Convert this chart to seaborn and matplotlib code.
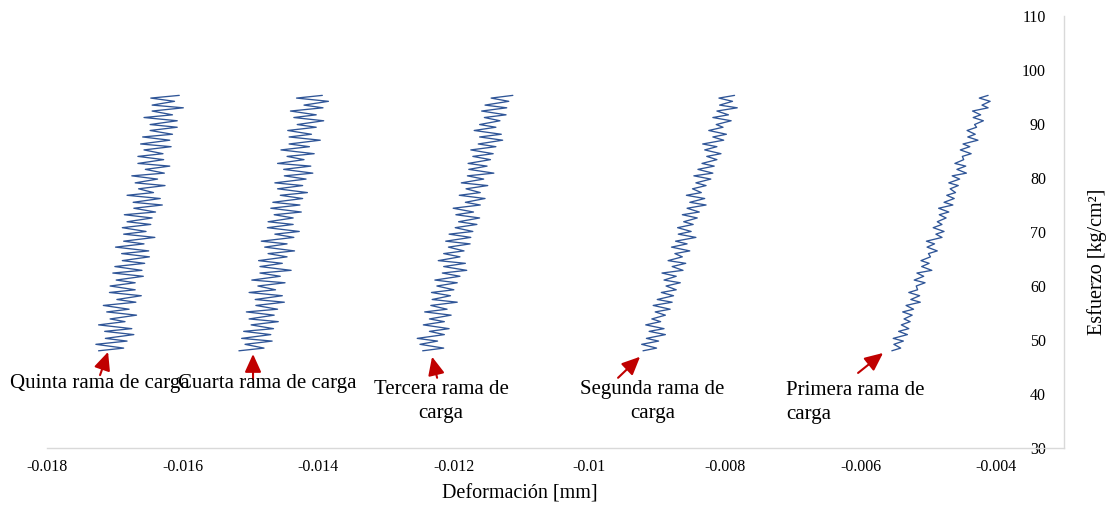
import matplotlib
matplotlib.use("Agg")
import matplotlib.pyplot as plt
from matplotlib.ticker import FuncFormatter, FixedLocator
import seaborn as sns
import pandas as pd

# ---------------- data ----------------
# shared stress readings [kg/cm2]
esfuerzo = [
    48.0, 48.5, 49.2, 49.8, 50.3, 51.0, 51.6, 52.1, 52.8, 53.4,
    53.9, 54.6, 55.2, 55.7, 56.4, 57.0, 57.5, 58.2, 58.8, 59.3,
    60.0, 60.6, 61.1, 61.8, 62.4, 62.9, 63.6, 64.2, 64.7, 65.4,
    66.0, 66.5, 67.2, 67.8, 68.3, 69.0, 69.6, 70.1, 70.8, 71.4,
    71.9, 72.6, 73.2, 73.7, 74.4, 75.0, 75.5, 76.2, 76.8, 77.3,
    78.0, 78.6, 79.1, 79.8, 80.4, 80.9, 81.6, 82.2, 82.7, 83.4,
    84.0, 84.5, 85.2, 85.8, 86.3, 87.0, 87.6, 88.1, 88.8, 89.4,
    89.9, 90.6, 91.2, 91.7, 92.4, 93.0, 93.5, 94.2, 94.8, 95.3,
]

# strain readings in micrometres (x1e-3 mm) for each loading branch
quinta_um = [
    -17.24, -16.87, -17.28, -16.82, -17.14, -16.72, -17.15, -16.75, -17.24, -16.85,
    -17.07, -16.68, -17.12, -16.79, -17.17, -16.69, -16.97, -16.61, -17.08, -16.70,
    -17.07, -16.70, -16.98, -16.58, -17.03, -16.60, -17.00, -16.56, -16.89, -16.49,
    -16.90, -16.50, -16.99, -16.57, -16.87, -16.41, -16.87, -16.54, -16.89, -16.47,
    -16.82, -16.45, -16.86, -16.40, -16.72, -16.30, -16.73, -16.33, -16.82, -16.43,
    -16.65, -16.26, -16.70, -16.37, -16.75, -16.27, -16.55, -16.19, -16.66, -16.28,
    -16.66, -16.29, -16.57, -16.17, -16.62, -16.19, -16.59, -16.15, -16.48, -16.08,
    -16.48, -16.08, -16.57, -16.15, -16.45, -15.99, -16.45, -16.12, -16.47, -16.05,
]
cuarta_um = [
    -15.17, -14.80, -15.08, -14.68, -15.13, -14.70, -15.10, -14.66, -14.99, -14.59,
    -15.02, -14.65, -15.06, -14.60, -14.92, -14.50, -14.93, -14.53, -15.02, -14.63,
    -14.89, -14.49, -14.98, -14.56, -14.86, -14.40, -14.86, -14.53, -14.88, -14.46,
    -14.74, -14.35, -14.79, -14.46, -14.84, -14.36, -14.64, -14.28, -14.75, -14.37,
    -14.74, -14.37, -14.65, -14.25, -14.70, -14.27, -14.67, -14.23, -14.56, -14.16,
    -14.60, -14.23, -14.64, -14.18, -14.50, -14.08, -14.51, -14.11, -14.60, -14.21,
    -14.46, -14.06, -14.55, -14.13, -14.43, -13.97, -14.43, -14.10, -14.45, -14.03,
    -14.31, -13.92, -14.36, -14.03, -14.41, -13.93, -14.21, -13.85, -14.32, -13.94,
]
tercera_um = [
    -12.46, -12.15, -12.50, -12.24, -12.54, -12.14, -12.36, -12.07, -12.45, -12.14,
    -12.36, -12.04, -12.43, -12.10, -12.34, -11.95, -12.32, -12.05, -12.33, -12.00,
    -12.25, -11.95, -12.28, -11.91, -12.17, -11.81, -12.15, -11.83, -12.23, -11.91,
    -12.15, -11.85, -12.08, -11.76, -12.12, -11.75, -12.07, -11.72, -11.98, -11.66,
    -11.93, -11.62, -11.97, -11.71, -12.01, -11.61, -11.83, -11.54, -11.92, -11.61,
    -11.82, -11.50, -11.89, -11.56, -11.80, -11.41, -11.78, -11.51, -11.79, -11.46,
    -11.72, -11.42, -11.75, -11.38, -11.64, -11.28, -11.62, -11.30, -11.70, -11.38,
    -11.62, -11.32, -11.55, -11.23, -11.59, -11.22, -11.54, -11.19, -11.45, -11.13,
]
segunda_um = [
    -9.21, -9.01, -9.23, -8.98, -9.16, -8.88, -9.12, -8.90, -9.17, -8.95,
    -9.08, -8.88, -9.03, -8.81, -9.06, -8.78, -9.00, -8.76, -8.94, -8.72,
    -8.87, -8.66, -8.90, -8.72, -8.93, -8.62, -8.78, -8.58, -8.84, -8.63,
    -8.74, -8.52, -8.79, -8.56, -8.73, -8.43, -8.69, -8.50, -8.70, -8.47,
    -8.61, -8.41, -8.63, -8.38, -8.56, -8.28, -8.52, -8.30, -8.57, -8.35,
    -8.48, -8.28, -8.43, -8.21, -8.46, -8.18, -8.40, -8.16, -8.34, -8.12,
    -8.27, -8.06, -8.30, -8.12, -8.33, -8.02, -8.18, -7.98, -8.24, -8.03,
    -8.13, -7.91, -8.18, -7.95, -8.12, -7.82, -8.08, -7.89, -8.09, -7.86,
]
primera_um = [
    -5.54, -5.41, -5.51, -5.37, -5.52, -5.31, -5.44, -5.29, -5.40, -5.27,
    -5.36, -5.24, -5.38, -5.22, -5.33, -5.12, -5.26, -5.13, -5.29, -5.16,
    -5.18, -5.05, -5.21, -5.07, -5.17, -4.95, -5.10, -4.99, -5.11, -4.97,
    -5.00, -4.87, -5.02, -4.91, -5.03, -4.80, -4.89, -4.77, -4.93, -4.80,
    -4.87, -4.74, -4.84, -4.70, -4.85, -4.64, -4.77, -4.62, -4.73, -4.60,
    -4.68, -4.56, -4.70, -4.54, -4.65, -4.44, -4.58, -4.45, -4.61, -4.48,
    -4.50, -4.37, -4.53, -4.39, -4.49, -4.27, -4.42, -4.31, -4.43, -4.29,
    -4.32, -4.19, -4.34, -4.23, -4.35, -4.12, -4.21, -4.09, -4.25, -4.12,
]

ramas = ["Quinta", "Cuarta", "Tercera", "Segunda", "Primera"]
series = [quinta_um, cuarta_um, tercera_um, segunda_um, primera_um]

x_ticks = [-0.018, -0.016, -0.014, -0.012, -0.010, -0.008, -0.006, -0.004]
y_ticks = [30, 40, 50, 60, 70, 80, 90, 100, 110]

etiquetas = ["Quinta rama de carga", "Cuarta rama de carga", "Tercera rama de\ncarga",
             "Segunda rama de\ncarga", "Primera rama de\ncarga"]

# ---------------- build table ----------------
rows = []
for rama, vals in zip(ramas, series):
    for i, (e, d) in enumerate(zip(esfuerzo, vals)):
        rows.append({"rama": rama, "orden": i, "esfuerzo": e, "deformacion": d / 1000.0})
df = pd.DataFrame(rows)

# ---------------- style ----------------
sns.set_style("white")
plt.rcParams["font.family"] = ["Liberation Serif", "DejaVu Serif"]

LINE = "#2F5597"
AXIS = "#D9D9D9"
RED = "#C00000"

fig = plt.figure(figsize=(11.07, 5.12), dpi=100)
ax = fig.add_axes([0.0425, 0.125, 0.9187, 0.84375])

sns.lineplot(data=df, x="deformacion", y="esfuerzo", hue="rama", sort=False,
             estimator=None, palette=[LINE] * 5, legend=False, linewidth=0.95, ax=ax)

XMAX = -0.003
ax.set_xlim(-0.018, XMAX)
ax.set_ylim(30, 110)

ax.xaxis.set_major_locator(FixedLocator(x_ticks))
ax.yaxis.set_major_locator(FixedLocator(y_ticks))
ax.xaxis.set_major_formatter(FuncFormatter(lambda v, p: "%g" % round(v, 4)))

ax.spines["top"].set_visible(False)
ax.spines["right"].set_visible(False)
ax.spines["left"].set_position(("data", XMAX))
for s in ("left", "bottom"):
    ax.spines[s].set_color(AXIS)
    ax.spines[s].set_linewidth(1.0)

ax.tick_params(axis="x", direction="out", length=5, width=1, color=AXIS,
               labelsize=11.5, labelcolor="black", pad=3)
ax.tick_params(axis="y", direction="in", length=4, width=1, color=AXIS,
               labelsize=11.5, labelcolor="black", pad=13)
ax.set_xlabel("")
ax.set_ylabel("")
ax.grid(False)

fig.text(520 / 1107, 1 - 494 / 512, "Deformación [mm]", ha="center", va="center",
         fontsize=14.5, color="black")
fig.text(1097 / 1107, 1 - 262 / 512, "Esfuerzo [kg/cm²]", ha="center", va="center",
         rotation=90, fontsize=14.5, color="black")

# ---------------- annotations ----------------
flechas = [  # (tail, tip) in data coordinates
    ((-0.017218, 43.5), (-0.01710, 47.8)),
    ((-0.014962, 42.8), (-0.014962, 47.4)),
    ((-0.012247, 43.0), (-0.012321, 46.9)),
    ((-0.009578, 43.0), (-0.009253, 46.9)),
    ((-0.006038, 43.9), (-0.005669, 47.6)),
]
for tail, tip in flechas:
    ax.annotate("", xy=tip, xytext=tail,
                arrowprops=dict(arrowstyle="-|>,head_length=1.1,head_width=0.5",
                                color=RED, lw=1.5, mutation_scale=10,
                                shrinkA=0, shrinkB=0), annotation_clip=False)

textos = [
    (-0.018546, 42.0, "left"),
    (-0.016068, 42.0, "left"),
    (-0.012189, 38.6, "center"),
    (-0.009069, 38.6, "center"),
    (-0.007100, 38.5, "left"),
]
for (tx, ty, ha), lab in zip(textos, etiquetas):
    ax.text(tx, ty, lab, ha=ha, va="center", multialignment=ha, fontsize=15,
            linespacing=1.35, clip_on=False, color="black")

fig.savefig("out.png", dpi=100)
